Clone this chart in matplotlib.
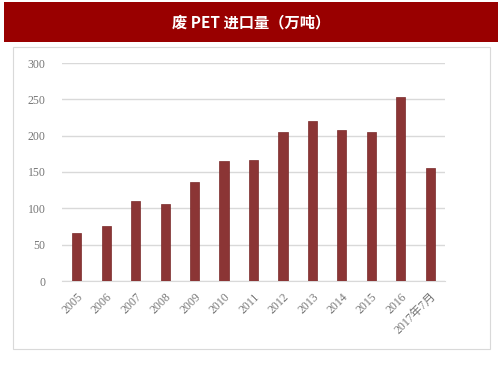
import matplotlib.pyplot as plt
import matplotlib.patches as patches
import numpy as np

years = ['2005', '2006', '2007', '2008', '2009', '2010', '2011', '2012',
         '2013', '2014', '2015', '2016', '2017年7月']
imports = [66, 76, 110, 106, 136, 165, 166, 205, 220, 208, 205, 253, 155]
yticks = [0, 50, 100, 150, 200, 250, 300]

plt.rcParams['font.family'] = ['Liberation Serif', 'Noto Sans CJK SC']

W, H = 503, 378
fig = plt.figure(figsize=(W / 100, H / 100), dpi=100)

# title banner
fig.patches.append(patches.Rectangle((4 / W, 1 - 42 / H), 494 / W, 40 / H,
                                     transform=fig.transFigure,
                                     facecolor='#990000', edgecolor='none'))
fig.text(0.5, 1 - 22 / H, '废 PET 进口量（万吨）', color='white', fontsize=11,
         fontweight='bold', ha='center', va='center',
         family=['Noto Sans CJK SC', 'DejaVu Sans'])
# inner frame
fig.patches.append(patches.Rectangle((13 / W, 1 - 349 / H), 477 / W, 302 / H,
                                     transform=fig.transFigure,
                                     facecolor='none', edgecolor='#d9d9d9', lw=0.8))

ax = fig.add_axes([62 / W, 1 - 281 / H, 383 / W, 218 / H])
x = np.arange(len(years))
ax.bar(x, imports, width=0.31, color='#8b3535', edgecolor='#7a2a2a', lw=0.5, zorder=3)
ax.set_xlim(-0.5, len(years) - 0.5)
ax.set_ylim(0, 300)
ax.set_yticks(yticks)
ax.yaxis.grid(True, color='#d9d9d9', lw=1, zorder=0)
for s in ['top', 'right', 'left']:
    ax.spines[s].set_visible(False)
ax.spines['bottom'].set_color('#d9d9d9')
ax.tick_params(length=0, colors='#767676', labelsize=8.5)
ax.tick_params(axis='y', pad=12)
ax.tick_params(axis='x', pad=7)
ax.set_xticks(x)
ax.set_xticklabels(years, rotation=45, ha='right', rotation_mode='anchor')

fig.savefig('out.png', dpi=100)
